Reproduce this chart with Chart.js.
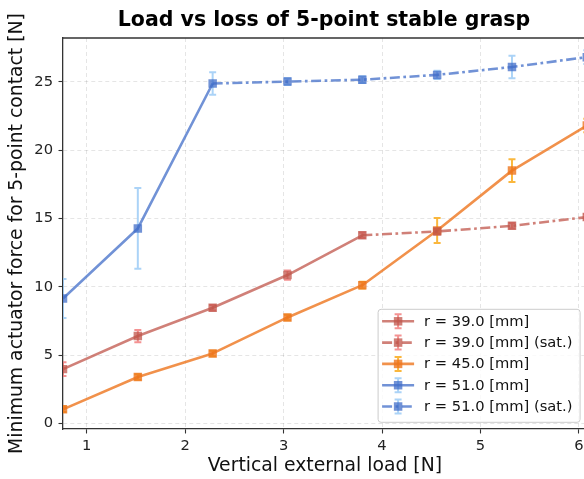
<!DOCTYPE html>
<html><head><meta charset="utf-8">
<script src="https://cdn.jsdelivr.net/npm/chart.js@4.4.1/dist/chart.umd.min.js"></script>
<style>
html,body{margin:0;padding:0;background:#fff;overflow:hidden;}
#wrap{width:584px;height:479px;overflow:hidden;position:relative;background:#fff;}
#c{display:block;}
</style></head><body>
<div id="wrap"><canvas id="c" width="648" height="479" style="width:648px;height:479px"></canvas></div>
<script>
const loadN = [0.76, 1.52, 2.28, 3.04, 3.80, 4.56, 5.32, 6.08];
const xTicks = [1, 2, 3, 4, 5, 6];
const yTicks = [0, 5, 10, 15, 20, 25];
const r39Force    = [3.98, 6.40, 8.47, 10.86, 13.77, null, null, null];
const r39Err      = [0.50, 0.45, 0.20, 0.34, 0.20, null, null, null];
const r39SatForce = [null, null, null, null, 13.77, 14.05, 14.46, 15.10];
const r39SatErr   = [null, null, null, null, null, 0.20, 0.20, 0.20];
const r45Force    = [1.04, 3.40, 5.13, 7.76, 10.12, 14.12, 18.50, 21.80];
const r45Err      = [0.20, 0.20, 0.20, 0.20, 0.25, 0.91, 0.83, 0.50];
const r51Force    = [9.15, 14.27, 24.87, null, null, null, null, null];
const r51Err      = [1.43, 2.95, 0.83, null, null, null, null, null];
const r51SatForce = [null, null, 24.87, 25.01, 25.15, 25.50, 26.08, 26.80];
const r51SatErr   = [null, null, null, 0.25, 0.25, 0.30, 0.82, 0.50];
const seriesLabels = ['r = 39.0 [mm]', 'r = 39.0 [mm] (sat.)', 'r = 45.0 [mm]', 'r = 51.0 [mm]', 'r = 51.0 [mm] (sat.)'];
const titleText = 'Load vs loss of 5-point stable grasp';
const xTitle = 'Vertical external load [N]';
const yTitle = 'Minimum actuator force for 5-point contact [N]';

const RED = 'rgba(192,85,75,0.75)', RED_ERR = 'rgba(240,110,110,0.75)';
const ORA = 'rgba(238,118,30,0.8)', ORA_ERR = 'rgba(250,175,40,0.9)';
const BLU = 'rgba(65,110,200,0.75)', BLU_ERR = 'rgba(150,200,245,0.8)';
const DASHDOT = [10, 3.5, 2.7, 3.5];
const FONT = 'DejaVu Sans';

function pts(ys) { return loadN.map((x, i) => ({x: x, y: ys[i]})).filter(p => p.y !== null); }
function errs(ys, es) { return es.filter((e, i) => ys[i] !== null); }
function ds(label, ys, es, color, errColor, dash, sat) {
  const data = pts(ys);
  return {
    label: label, data: data, errs: errs(ys, es), errColor: errColor,
    borderColor: color, backgroundColor: color, borderWidth: 2.6, borderDash: dash,
    borderJoinStyle: 'round', pointStyle: 'rect',
    pointRadius: data.map((p, j) => (sat && j === 0) ? 0 : 6), pointHoverRadius: 6,
    pointBackgroundColor: color, pointBorderWidth: 0, tension: 0, clip: 0, fill: false
  };
}
const datasets = [
  ds(seriesLabels[0], r39Force, r39Err, RED, RED_ERR, [], false),
  ds(seriesLabels[1], r39SatForce, r39SatErr, RED, RED_ERR, DASHDOT, true),
  ds(seriesLabels[2], r45Force, r45Err, ORA, ORA_ERR, [], false),
  ds(seriesLabels[3], r51Force, r51Err, BLU, BLU_ERR, [], false),
  ds(seriesLabels[4], r51SatForce, r51SatErr, BLU, BLU_ERR, DASHDOT, true)
];

const errorBars = {
  id: 'errorBars',
  beforeDatasetsDraw(chart) {
    const ctx = chart.ctx, a = chart.chartArea;
    const xs = chart.scales.x, ys = chart.scales.y;
    ctx.save();
    ctx.beginPath(); ctx.rect(a.left, a.top, a.right - a.left, a.bottom - a.top); ctx.clip();
    chart.data.datasets.forEach(d => {
      ctx.strokeStyle = d.errColor; ctx.lineWidth = 2; ctx.setLineDash([]);
      d.data.forEach((p, j) => {
        const e = d.errs[j]; if (e == null) return;
        const x = xs.getPixelForValue(p.x);
        const y1 = ys.getPixelForValue(p.y + e), y2 = ys.getPixelForValue(p.y - e);
        ctx.beginPath();
        ctx.moveTo(x, y1); ctx.lineTo(x, y2);
        ctx.moveTo(x - 3.5, y1); ctx.lineTo(x + 3.5, y1);
        ctx.moveTo(x - 3.5, y2); ctx.lineTo(x + 3.5, y2);
        ctx.stroke();
      });
    });
    ctx.restore();
  },
  afterDatasetsDraw(chart) {
    const ctx = chart.ctx, a = chart.chartArea;
    ctx.save();
    ctx.strokeStyle = '#333'; ctx.lineWidth = 1.3; ctx.setLineDash([]);
    ctx.beginPath();
    ctx.moveTo(a.left, a.top); ctx.lineTo(a.right, a.top); ctx.lineTo(a.right, a.bottom);
    ctx.stroke();
    ctx.restore();
  }
};

const customLegend = {
  id: 'customLegend',
  afterDraw(chart) {
    const ctx = chart.ctx, a = chart.chartArea;
    const w = 202, h = 113;
    const right = a.right - 6.7, bottom = a.bottom - 6.7;
    const left = right - w, top = bottom - h;
    ctx.save();
    ctx.beginPath();
    if (ctx.roundRect) ctx.roundRect(left, top, w, h, 3); else ctx.rect(left, top, w, h);
    ctx.fillStyle = 'rgba(255,255,255,0.8)'; ctx.fill();
    ctx.strokeStyle = '#cccccc'; ctx.lineWidth = 1; ctx.stroke();
    chart.data.datasets.forEach((d, i) => {
      const cy = top + 12 + i * 21.3;
      const x0 = left + 4, x1 = left + 36, cx = (x0 + x1) / 2;
      ctx.strokeStyle = d.errColor; ctx.lineWidth = 2; ctx.setLineDash([]);
      ctx.beginPath();
      ctx.moveTo(cx, cy - 7); ctx.lineTo(cx, cy + 7);
      ctx.moveTo(cx - 3.5, cy - 7); ctx.lineTo(cx + 3.5, cy - 7);
      ctx.moveTo(cx - 3.5, cy + 7); ctx.lineTo(cx + 3.5, cy + 7);
      ctx.stroke();
      ctx.strokeStyle = d.borderColor; ctx.lineWidth = d.borderWidth; ctx.setLineDash(d.borderDash || []);
      ctx.beginPath(); ctx.moveTo(x0, cy); ctx.lineTo(x1, cy); ctx.stroke();
      ctx.setLineDash([]);
      ctx.fillStyle = d.borderColor;
      const s = 6 * Math.SQRT1_2;
      ctx.fillRect(cx - s, cy - s, 2 * s, 2 * s);
      ctx.fillStyle = '#111'; ctx.font = '14.7px "' + FONT + '"';
      ctx.textBaseline = 'middle'; ctx.textAlign = 'left';
      ctx.fillText(d.label, left + 46, cy + 0.5);
    });
    ctx.restore();
  }
};

const tickFont = {family: FONT, size: 14.7};
const gridOpts = {color: 'rgba(0,0,0,0.1)', lineWidth: 1, tickLength: 4.5, tickColor: '#333', tickWidth: 1.1, tickBorderDash: []};
const borderOpts = {display: true, color: '#333', width: 1.3, dash: [4, 3]};

new Chart(document.getElementById('c'), {
  type: 'line',
  data: {datasets: datasets},
  options: {
    responsive: false, animation: false, devicePixelRatio: 1,
    layout: {padding: 0},
    plugins: {
      legend: {display: false}, tooltip: {enabled: false},
      title: {display: true, text: titleText, color: '#000',
        font: {family: FONT, size: 20.5, weight: 'bold'}, padding: {top: 8.3, bottom: 5.1}}
    },
    scales: {
      x: {
        type: 'linear', min: 0.76, max: 6.08,
        afterBuildTicks: s => { s.ticks = xTicks.map(v => ({value: v})); },
        afterFit: s => { s.height = 50; },
        ticks: {font: tickFont, color: '#222', padding: 4, autoSkip: false, maxRotation: 0, callback: v => String(v)},
        grid: gridOpts, border: borderOpts,
        title: {display: true, text: xTitle, color: '#111', font: {family: FONT, size: 18.8}, padding: {top: 0, bottom: 1.5}}
      },
      y: {
        type: 'linear', min: -0.4, max: 28.2,
        afterBuildTicks: s => { s.ticks = yTicks.map(v => ({value: v})); },
        afterFit: s => { s.width = 63; },
        ticks: {font: tickFont, color: '#222', padding: 5.5, autoSkip: false, callback: v => String(v)},
        grid: gridOpts, border: borderOpts,
        title: {display: true, text: yTitle, color: '#111', font: {family: FONT, size: 18.8}, padding: {top: 6, bottom: 0}}
      },
      y2: {
        type: 'linear', position: 'right', display: true,
        afterFit: s => { s.width = 61.2; },
        ticks: {display: false}, grid: {display: false, drawTicks: false}, border: {display: false}
      }
    }
  },
  plugins: [errorBars, customLegend]
});
</script>
</body></html>
